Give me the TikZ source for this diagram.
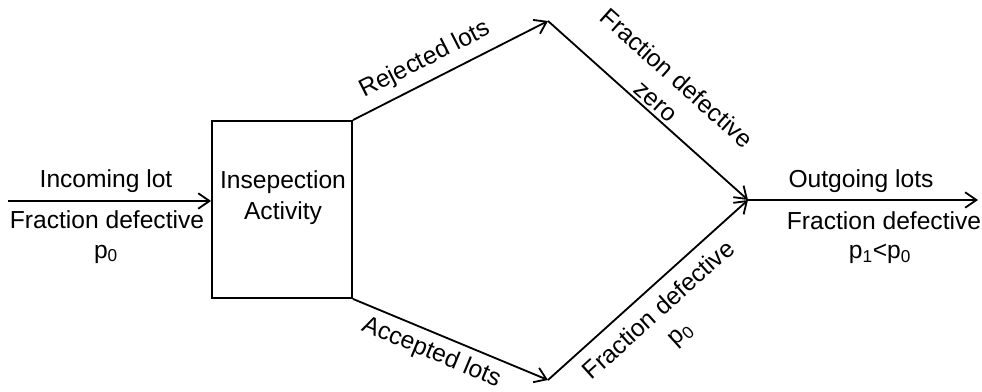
\documentclass[tikz,border=0pt]{standalone}
\usepackage{fontspec}
\setmainfont{Liberation Sans}
\usetikzlibrary{arrows.meta}
\begin{document}
\begin{tikzpicture}[x=0.025cm,y=-0.025cm,line width=1.3pt,
    >={Straight Barb[length=8pt,width=11pt]},
    every node/.style={font=\fontsize{17.5}{22}\selectfont,inner sep=2pt},
    lbl/.style={align=center}]
    \useasboundingbox (0,0) rectangle (982,392);
    \node[draw,minimum width=3.5cm,minimum height=4.425cm] (box) at (282,209.5) {};
    \node[lbl] (act) at (283,198) {Insepection\\Activity};
    \coordinate (in) at (8,201);
    \coordinate (rej) at (548,21);
    \coordinate (acc) at (548,380);
    \coordinate (merge) at (748,200);
    \coordinate (out) at (978,200);
    \draw[->] (in) -- (in -| box.west);
    \node (inlot) at (106,181) {Incoming lot};
    \node (infd) at (107,220) {Fraction defective};
    \node (inp) at (106,254) {p\textsubscript{0}};
    \draw[->] (box.north east) -- node[sloped,above=4pt,pos=0.42] {Rejected lots} (rej);
    \draw[->] (rej) -- node[sloped,above,lbl] {Fraction defective\\zero} (merge);
    \draw[->] (box.south east) -- node[sloped,below=3pt,pos=0.44] {Accepted lots} (acc);
    \draw[->] (acc) -- node[sloped,below=6pt,pos=0.48,lbl] {Fraction defective\\p\textsubscript{0}} (merge);
    \draw[->] (merge) -- (out);
    \node (outlot) at (861,181) {Outgoing lots};
    \node (outfd) at (884,221) {Fraction defective};
    \node (outp) at (880,254) {p\textsubscript{1}<p\textsubscript{0}};
\end{tikzpicture}
\end{document}
